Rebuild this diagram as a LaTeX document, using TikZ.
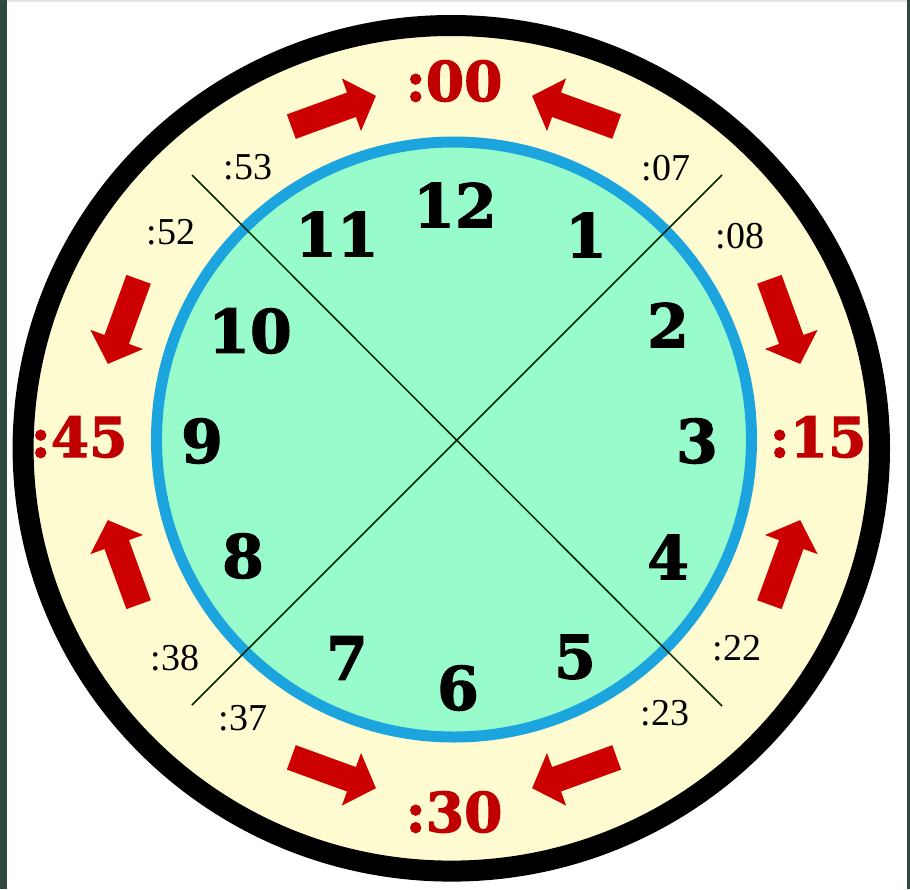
\documentclass[tikz,border=0pt]{standalone}
\usepackage{fontspec}
\setmainfont{Liberation Serif}
\newfontfamily\fatfont{DejaVu Serif Bold}[FakeBold=2]
\definecolor{cream}{HTML}{FFFBD0}
\definecolor{mint}{HTML}{98FBCB}
\definecolor{ringblue}{HTML}{1CA4DE}
\definecolor{arrowred}{HTML}{CC0000}
\definecolor{textred}{HTML}{C00000}
\definecolor{strip}{HTML}{2E4A3F}
\definecolor{topline}{HTML}{E6E2E6}
\tikzset{
  hournum/.style={inner sep=0pt, font=\fatfont\fontsize{60}{60}\selectfont, text=black},
  quarter/.style={inner sep=0pt, font=\fatfont\fontsize{55}{55}\selectfont, text=textred},
  minlabel/.style={inner sep=0pt, font=\fontsize{38}{38}\selectfont, text=black},
  divider/.style={line width=1.5pt, draw=black!85!green},
  blockarrow/.style={fill=arrowred, draw=none}
}
\begin{document}
\begin{tikzpicture}[x=1pt, y=-1pt]
\useasboundingbox (0,0) rectangle (910,889);
\fill[white] (0,0) rectangle (910,889);
\fill[strip] (0,0) rectangle (7,889);
\fill[strip] (907,0) rectangle (910,889);
\fill[topline] (7,0) rectangle (907,2);
% outer ring
\draw[line width=21pt, fill=cream] (451.3,448.3) ellipse [x radius=428.2pt, y radius=422.8pt];
% inner face
\draw[line width=11pt, draw=ringblue, fill=mint] (454,439.5) circle [radius=297.5pt];
% dividers
\coordinate (l1a) at (192,175);
\coordinate (l1b) at (722,706);
\coordinate (l2a) at (722,175);
\coordinate (l2b) at (192,705);
\draw[divider] (l1a) -- (l1b);
\draw[divider] (l2a) -- (l2b);
% arrows
\foreach \p/\d in {110/20, 70/160, 20/-70, -20/70, -70/-160, -110/-20, 160/250, 200/110} {
  \begin{scope}[shift={(454,442)}, rotate=\p, shift={(352pt,0pt)}, rotate=\d-\p]
    \fill[blockarrow] (-45,-13) -- (19,-13) -- (19,-28) -- (45,0) -- (19,28) -- (19,13) -- (-45,13) -- cycle;
  \end{scope}
}
% hour numbers
\node[hournum] (h12) at (455,205) {12};
\node[hournum] (h1) at (586,235) {1};
\node[hournum] (h2) at (668,325) {2};
\node[hournum] (h3) at (697,441) {3};
\node[hournum] (h4) at (668,557) {4};
\node[hournum] (h5) at (575,657) {5};
\node[hournum] (h6) at (458,688) {6};
\node[hournum] (h7) at (347,658) {7};
\node[hournum] (h8) at (243,556) {8};
\node[hournum] (h9) at (202,441) {9};
\node[hournum] (h10) at (250,331) {10};
\node[hournum] (h11) at (337,234) {11};
% quarter labels
\node[quarter] (q00) at (454,81) {:00};
\node[quarter] (q15) at (818,437) {:15};
\node[quarter] (q30) at (454,812) {:30};
\node[quarter] (q45) at (79,437) {:45};
% minute labels
\node[minlabel] (m53) at (248,167) {:53};
\node[minlabel] (m52) at (171,232) {:52};
\node[minlabel] (m07) at (666,168) {:07};
\node[minlabel] (m08) at (740,236) {:08};
\node[minlabel] (m38) at (175,658) {:38};
\node[minlabel] (m37) at (243,718) {:37};
\node[minlabel] (m22) at (737,648) {:22};
\node[minlabel] (m23) at (665,713) {:23};
\end{tikzpicture}
\end{document}
